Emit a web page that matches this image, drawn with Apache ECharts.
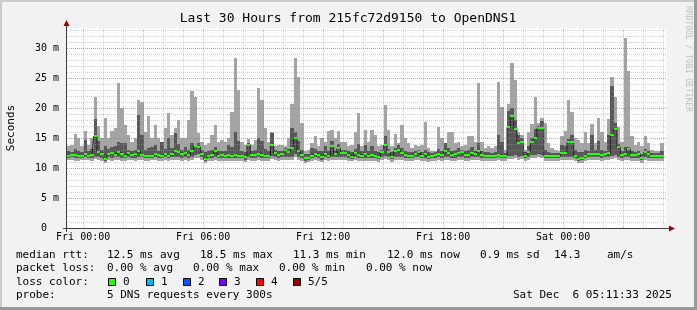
<!DOCTYPE html>
<html><head><meta charset="utf-8">
<script src="https://cdn.jsdelivr.net/npm/echarts@6/dist/echarts.min.js"></script>
<style>html,body{margin:0;padding:0;background:#f2f2f2}#c{width:697px;height:310px}</style>
</head><body><div id="c"></div>
<script>
// ---- data (seconds, in ms units shown as "m") ----
const T0 = -0.8075;          // first sample, hours relative to Fri 00:00
const STEP = 1/6;            // 10 minute bins
const SPAN = 30;             // hours shown
const Y_MAX = 100/3;

const pingMax = [
13.6,13.9,15.7,15.0,13.6,16.1,13.9,15.0,21.8,17.0,15.0,18.4,15.0,16.1,16.7,24.2,20.0,17.2,15.5,14.4,15.0,21.3,21.0,16.0,18.7,15.0,17.2,15.0,14.4,16.7,
19.2,15.5,16.7,18.0,15.0,15.0,18.0,22.8,21.8,15.8,14.4,13.9,14.2,15.5,17.1,14.4,14.7,14.4,15.0,19.4,28.4,23.0,14.4,13.9,14.8,13.9,14.7,23.4,21.3,16.7,
14.4,16.0,13.6,13.9,13.9,13.6,15.0,20.6,28.3,25.2,17.5,12.9,13.0,14.2,15.4,13.6,15.0,14.4,16.1,16.4,15.0,16.1,14.4,14.4,13.6,13.9,16.0,19.2,13.6,16.4,
14.4,16.4,15.5,13.6,13.9,20.5,16.4,13.6,15.6,14.2,17.2,15.0,14.2,13.3,13.9,13.6,13.9,17.7,13.3,12.8,12.8,16.8,15.0,14.2,16.0,16.0,14.2,14.4,13.6,13.9,
15.3,15.3,14.4,24.2,14.4,13.3,13.6,13.3,13.6,24.4,20.1,13.0,20.6,27.5,24.7,16.0,15.5,13.0,16.0,17.3,21.9,17.5,18.4,17.5,14.2,13.3,13.0,12.8,15.3,16.1,
21.4,19.3,15.0,14.7,14.2,16.0,14.2,17.3,14.2,18.3,16.0,14.4,18.1,25.1,21.9,16.9,14.4,31.7,26.1,15.4,13.9,14.4,13.6,15.4,14.2,13.0,12.8,12.8,14.2];

const pingP4 = [
12.8,12.7,13.2,12.9,12.7,14.7,12.9,13.2,18.2,14.5,13.0,13.6,13.1,13.5,13.6,14.4,14.2,14.2,13.0,12.8,13.0,18.8,15.5,13.0,13.4,13.5,13.9,12.9,14.4,13.2,
15.0,13.3,15.8,14.0,13.0,13.5,13.0,14.2,13.8,14.2,13.0,12.7,12.8,13.0,13.5,12.8,12.9,12.8,13.9,13.5,16.0,14.5,12.8,12.7,14.2,12.9,13.0,15.0,14.5,13.2,
12.9,15.8,13.0,12.8,12.9,13.4,13.2,16.7,16.0,14.5,13.0,12.4,12.4,13.3,13.2,12.8,12.8,13.7,12.8,14.5,13.0,14.0,13.0,13.0,12.8,12.6,13.2,14.0,12.8,13.9,
12.8,13.6,12.9,12.6,13.0,15.3,13.2,12.6,13.3,13.8,13.4,12.8,12.7,12.6,12.9,13.0,12.7,13.0,12.6,12.5,12.6,13.1,12.8,14.2,13.4,12.9,13.0,13.3,13.0,12.8,
13.0,13.5,12.9,14.2,12.9,12.6,12.6,12.5,12.6,15.5,14.4,12.5,19.5,20.0,18.0,15.5,15.0,12.6,13.6,15.0,16.5,17.0,17.8,13.0,12.6,12.5,12.5,12.5,13.8,13.6,
14.8,15.5,13.0,12.6,12.6,13.0,12.9,15.5,13.0,14.5,13.0,12.9,15.5,23.7,17.5,14.0,12.9,13.5,13.5,12.8,12.7,12.8,12.3,13.2,12.9,12.5,12.5,12.5,12.8];

const pingMedian = [
12.0,12.1,12.1,12.0,12.0,12.3,12.0,12.2,15.3,12.7,12.3,11.5,12.4,12.5,12.2,12.6,12.3,12.0,12.5,12.1,12.3,12.8,12.2,12.0,12.0,12.0,12.3,12.1,12.0,12.4,
12.0,12.3,12.8,12.6,12.3,12.5,12.1,12.8,13.6,13.5,12.4,11.5,12.0,12.2,12.8,12.0,12.1,12.0,12.1,12.0,12.2,12.0,12.0,11.8,13.9,12.2,12.1,12.4,12.2,12.0,
12.0,13.9,12.5,12.1,12.3,13.0,12.6,13.3,15.0,12.8,12.2,11.6,11.7,12.0,12.4,12.2,11.8,12.4,12.0,13.6,12.3,13.3,12.5,12.5,12.2,11.9,12.5,12.2,12.0,12.3,
12.0,12.2,12.0,11.9,12.6,13.8,12.6,11.9,12.8,13.0,12.5,12.1,12.0,12.0,12.4,12.6,12.0,12.3,11.9,12.0,12.2,12.3,12.1,12.9,12.5,12.2,12.3,12.5,12.6,12.2,
12.2,12.5,12.3,12.8,12.2,12.0,12.0,12.0,12.0,12.2,12.0,12.0,16.8,18.6,16.5,14.2,14.4,12.0,12.7,14.4,15.0,16.7,16.7,12.0,12.0,12.0,12.0,12.0,12.5,12.5,
14.4,14.4,12.0,11.5,11.6,12.0,12.4,12.3,12.4,12.3,12.2,12.3,12.5,15.5,16.5,13.5,12.2,12.4,13.2,12.2,12.2,12.3,11.7,12.6,12.3,12.0,12.0,12.0,12.0];

const pingP2 = [
11.7,11.8,11.7,11.6,11.7,11.8,11.7,11.6,11.9,11.8,11.7,11.2,11.8,11.7,11.8,11.9,11.7,11.6,11.8,11.7,11.7,11.9,11.8,11.6,11.7,11.7,11.8,11.7,11.6,11.8,
11.7,11.8,11.9,11.8,11.7,11.8,11.7,11.9,12.2,12.3,11.8,11.2,11.6,11.7,11.9,11.6,11.7,11.6,11.7,11.6,11.7,11.6,11.6,11.4,11.9,11.7,11.7,11.8,11.7,11.6,
11.7,12.0,11.8,11.7,11.8,11.9,11.8,11.9,12.4,11.9,11.7,11.2,11.3,11.6,11.8,11.7,11.4,11.8,11.6,11.9,11.8,11.9,11.8,11.8,11.7,11.5,11.8,11.7,11.6,11.7,
11.6,11.7,11.6,11.5,11.8,12.0,11.8,11.5,11.8,11.9,11.8,11.7,11.6,11.6,11.8,11.8,11.6,11.7,11.5,11.6,11.7,11.8,11.7,11.9,11.8,11.7,11.7,11.8,11.8,11.7,
11.7,11.8,11.8,11.9,11.7,11.6,11.7,11.7,11.7,11.8,11.7,11.6,12.0,12.0,12.1,11.9,12.0,11.7,11.9,12.2,12.2,12.3,12.2,11.7,11.7,11.7,11.6,11.7,11.8,11.8,
11.9,11.9,11.6,11.2,11.3,11.6,11.8,11.8,11.8,11.8,11.7,11.8,11.8,12.0,12.1,11.9,11.7,11.8,11.8,11.7,11.7,11.7,11.4,11.8,11.7,11.6,11.6,11.7,11.7];

const pingMin = [
11.3,11.4,11.2,11.2,11.3,11.3,11.4,11.1,11.5,11.3,11.2,10.9,11.4,11.2,11.3,11.4,11.2,11.1,11.3,11.3,11.2,11.4,11.3,11.1,11.2,11.3,11.3,11.2,11.1,11.3,
11.2,11.3,11.4,11.3,11.2,11.3,11.2,11.4,11.7,11.6,11.3,10.9,11.1,11.2,11.4,11.1,11.2,11.1,11.2,11.1,11.2,11.1,11.1,11.0,11.4,11.2,11.2,11.3,11.2,11.1,
11.2,11.5,11.3,11.2,11.3,11.4,11.3,11.4,11.9,11.4,11.2,10.9,11.0,11.1,11.3,11.2,11.0,11.3,11.1,11.4,11.3,11.4,11.3,11.3,11.2,11.1,11.3,11.2,11.1,11.2,
11.1,11.2,11.1,11.0,11.3,11.5,11.3,11.0,11.3,11.4,11.3,11.2,11.1,11.1,11.3,11.3,11.1,11.2,11.0,11.1,11.2,11.3,11.2,11.4,11.3,11.2,11.2,11.3,11.3,11.2,
11.2,11.3,11.3,11.4,11.2,11.1,11.2,11.2,11.2,11.3,11.2,11.1,11.5,11.5,11.6,11.4,11.5,11.2,11.4,11.7,11.7,11.8,11.7,11.2,11.2,11.2,11.1,11.2,11.3,11.3,
11.4,11.4,11.1,10.8,10.9,11.1,11.3,11.3,11.3,11.3,11.2,11.3,11.3,11.5,11.6,11.4,11.2,11.3,11.3,11.2,11.2,11.2,10.9,11.3,11.2,11.1,11.1,11.2,11.2];

// ---- axis ticks ----
const xLabelHours = [0, 6, 12, 18, 24];
const xLabelText  = ['Fri 00:00', 'Fri 06:00', 'Fri 12:00', 'Fri 18:00', 'Sat 00:00'];
const xMajorHours = [0, 3, 6, 9, 12, 15, 18, 21, 24, 27];
const xMinorHours = [1, 2, 4, 5, 7, 8, 10, 11, 13, 14, 16, 17, 19, 20, 22, 23, 25, 26, 28, 29];

// ---- legend text ----
const title = 'Last 30 Hours from 215fc72d9150 to OpenDNS1';
const yTitle = 'Seconds';
const rttLabel = 'median rtt:';
const rttStats = ['12.5 ms avg', '18.5 ms max', '11.3 ms min', '12.0 ms now', '0.9 ms sd', '14.3', 'am/s'];
const lossLabel = 'packet loss:';
const lossStats = ['0.00 % avg', '0.00 % max', '0.00 % min', '0.00 % now'];
const lossColorLabel = 'loss color:';
const lossColorNames = ['0', '1', '2', '3', '4', '5/5'];
const lossColorValues = ['#26ff00', '#00b8ff', '#0059ff', '#7e00ff', '#ff0000', '#a10000'];
const probeLabel = 'probe:';
const probeText = '5 DNS requests every 300s';
const stampText = 'Sat Dec  6 05:11:33 2025';
const watermark = 'RRDTOOL / TOBI OETIKER';

// ---- styles / layout ----
const FONT = 'DejaVu Sans Mono';
const GL = 67, GR = 667, GT = 28, GB = 228;
const C_LIGHT = '#a4a4a4', C_DARK = '#585858', C_MED = '#202020';
const C_MINOR = 'rgba(160,160,160,0.45)', C_MAJOR = 'rgba(255,60,60,0.4)';
const C_AXIS = '#404040', C_ARROW = '#a00000';

const times = pingMax.map((_, i) => T0 + i * STEP);

function band(lo, hi) { return times.map((t, i) => [t, lo[i], hi[i]]); }
function bandRender(color) {
  return function (params, api) {
    const t = api.value(0);
    const a = api.coord([t, api.value(1)]);
    const b = api.coord([t + STEP, api.value(2)]);
    const x0 = Math.round(a[0]), x1 = Math.round(b[0]);
    const yb = Math.round(a[1]), yt = Math.round(b[1]);
    return { type: 'rect', shape: { x: x0, y: yt, width: x1 - x0, height: Math.max(1, yb - yt) }, style: { fill: color } };
  };
}
function medRender(params, api) {
  const t = api.value(0);
  const a = api.coord([t, api.value(1)]);
  const b = api.coord([t + STEP, api.value(1)]);
  const x0 = Math.round(a[0]), x1 = Math.round(b[0]);
  const y = Math.round(a[1]);
  return { type: 'rect', shape: { x: x0, y: y - 1, width: x1 - x0, height: 2 }, style: { fill: lossColorValues[0] } };
}

const gridLines = [];
xMinorHours.forEach(h => gridLines.push({ xAxis: h, lineStyle: { color: C_MINOR, type: [1, 1], width: 1 } }));
xMajorHours.forEach(h => gridLines.push({ xAxis: h, lineStyle: { color: C_MAJOR, type: [1, 1], width: 1 } }));

const chart = echarts.init(document.getElementById('c'), null, { renderer: 'canvas', width: 697, height: 310 });

const legendGraphics = [];
function txt(x, y, s, extra) {
  legendGraphics.push(Object.assign({ type: 'text', x: x, y: y, silent: true,
    style: { text: s, font: '11px "' + FONT + '"', fill: '#000', textVerticalAlign: 'middle' } }, extra || {}));
}
txt(16, 255, rttLabel);
[107, 200, 293, 387, 480, 554, 607].forEach((x, i) => txt(x, 255, rttStats[i]));
txt(16, 268.5, lossLabel);
[107, 193, 279, 366].forEach((x, i) => txt(x, 268.5, lossStats[i]));
txt(16, 282, lossColorLabel);
[108, 146, 183, 219, 256, 293].forEach((x, i) => {
  legendGraphics.push({ type: 'rect', silent: true, shape: { x: x + 0.5, y: 278.5, width: 7, height: 7 },
    style: { fill: lossColorValues[i], stroke: '#000', lineWidth: 1 } });
  txt(x + 15, 282, lossColorNames[i]);
});
txt(16, 295.5, probeLabel);
txt(107, 295.5, probeText);
txt(513, 295.5, stampText);

const frame = [
  { type: 'rect', silent: true, shape: { x: 0, y: 0, width: 697, height: 2 }, style: { fill: '#cbcbcb' } },
  { type: 'rect', silent: true, shape: { x: 0, y: 0, width: 2, height: 310 }, style: { fill: '#cbcbcb' } },
  { type: 'rect', silent: true, shape: { x: 0, y: 307, width: 697, height: 3 }, style: { fill: '#999999' } },
  { type: 'rect', silent: true, shape: { x: 694, y: 0, width: 3, height: 310 }, style: { fill: '#999999' } },
  { type: 'text', silent: true, x: 348, y: 19, style: { text: title, font: '13px "' + FONT + '"', fill: '#000', textAlign: 'center', textVerticalAlign: 'middle' } },
  { type: 'text', silent: true, x: 11, y: 128, rotation: Math.PI / 2, style: { text: yTitle, font: '11px "' + FONT + '"', fill: '#000', textAlign: 'center', textVerticalAlign: 'middle' } },
  { type: 'text', silent: true, x: 688, y: 59, rotation: -Math.PI / 2, style: { text: watermark, font: '8px "' + FONT + '"', fill: '#c0c0c0', textAlign: 'center', textVerticalAlign: 'middle' } },
  { type: 'line', silent: true, z: 100, shape: { x1: GL - 0.5, y1: GB + 4, x2: GL - 0.5, y2: GT - 4 }, style: { stroke: C_AXIS, lineWidth: 1 } },
  { type: 'line', silent: true, z: 100, shape: { x1: GL - 4, y1: GB + 0.5, x2: GR + 4, y2: GB + 0.5 }, style: { stroke: C_AXIS, lineWidth: 1 } },
  { type: 'polygon', silent: true, z: 101, shape: { points: [[GL - 0.5, GT - 8], [GL - 3.5, GT - 2], [GL + 2.5, GT - 2]] }, style: { fill: C_ARROW } },
  { type: 'polygon', silent: true, z: 101, shape: { points: [[GR + 8, GB + 0.5], [GR + 2, GB - 2.5], [GR + 2, GB + 3.5]] }, style: { fill: C_ARROW } }
];

chart.setOption({
  animation: false,
  backgroundColor: '#f2f2f2',
  grid: { left: GL, right: 697 - GR, top: GT, bottom: 310 - GB, show: true, backgroundColor: '#ffffff', borderWidth: 0 },
  xAxis: {
    type: 'value', min: T0, max: T0 + SPAN,
    axisLine: { show: false }, axisTick: { show: false }, splitLine: { show: false },
    axisLabel: { customValues: xLabelHours, showMinLabel: true, showMaxLabel: true, margin: 4, fontFamily: FONT, fontSize: 10, color: '#000',
      formatter: v => { const k = xLabelHours.indexOf(Math.round(v)); return k >= 0 ? xLabelText[k] : ''; } }
  },
  yAxis: [
    { type: 'value', min: 0, max: Y_MAX, interval: 1, z: 5,
      axisLine: { show: false }, axisTick: { show: false }, axisLabel: { show: false },
      splitLine: { show: true, showMaxLine: false, lineStyle: { color: C_MINOR, type: [1, 1], width: 1 } } },
    { type: 'value', min: 0, max: Y_MAX, interval: 5, z: 6, position: 'left',
      axisLine: { show: false }, axisTick: { show: false },
      axisLabel: { showMaxLabel: false, margin: 8, fontFamily: FONT, fontSize: 10, color: '#000',
        formatter: v => v === 0 ? '0  ' : (Math.round(v) + ' m') },
      splitLine: { show: true, showMaxLine: false, lineStyle: { color: C_MAJOR, type: [1, 1], width: 1 } } }
  ],
  series: [
    { type: 'custom', name: 'outer', z: 2, clip: true, silent: true, renderItem: bandRender(C_LIGHT),
      encode: { x: 0, y: [1, 2] }, data: band(pingMin, pingMax) },
    { type: 'custom', name: 'inner', z: 3, clip: true, silent: true, renderItem: bandRender(C_DARK),
      encode: { x: 0, y: [1, 2] }, data: band(pingP2, pingP4) },
    { type: 'line', name: 'median line', z: 4, silent: true, symbol: 'none', step: 'middle',
      lineStyle: { color: C_MED, width: 1 }, data: times.map((t, i) => [t + STEP / 2, pingMedian[i]]) },
    { type: 'custom', name: 'median', z: 5, clip: true, silent: true, renderItem: medRender,
      encode: { x: 0, y: 1 }, data: times.map((t, i) => [t, pingMedian[i]]) },
    { type: 'line', name: 'grid', z: 8, silent: true, symbol: 'none', lineStyle: { opacity: 0 },
      data: [[T0, 0]],
      markLine: { silent: true, symbol: ['none', 'none'], label: { show: false }, animation: false, data: gridLines } }
  ],
  graphic: { elements: frame.concat(legendGraphics) }
});
</script>
</body></html>
